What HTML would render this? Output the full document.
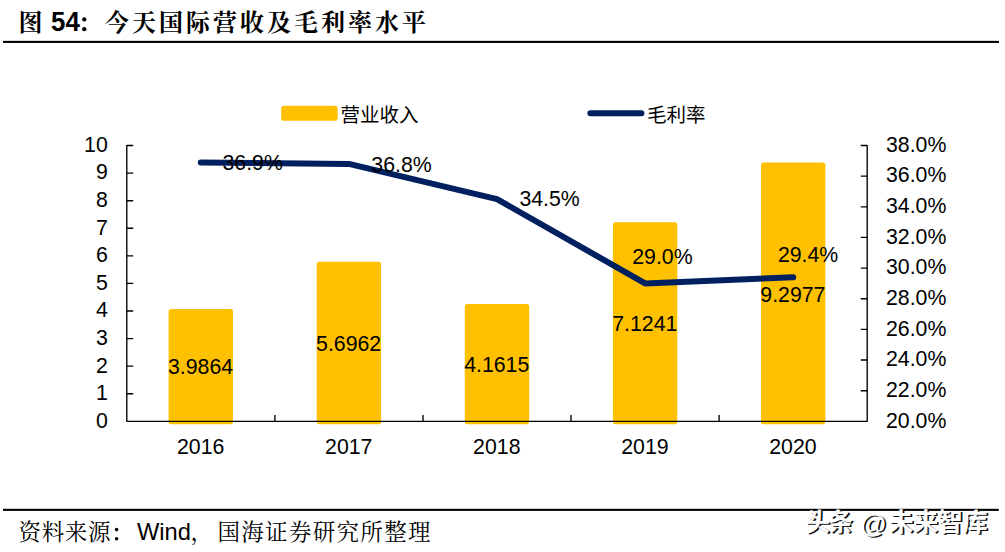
<!DOCTYPE html>
<html lang="zh"><head><meta charset="utf-8"><title>图 54</title>
<style>
html,body{margin:0;padding:0;background:#fff;}
svg{display:block;}
text{font-family:"Liberation Sans",sans-serif;fill:#000;}
text.cjk{font-family:"Liberation Sans","Noto Sans CJK SC",sans-serif;}
text.kai{font-family:"Liberation Serif","Noto Serif CJK SC",serif;}
</style></head><body>
<svg width="1005" height="552" viewBox="0 0 1005 552">
<rect width="1005" height="552" fill="#fff"/>
<text class="kai" x="18.5" y="30.5" font-size="24" font-weight="bold">图</text>
<text class="kai" x="105" y="30.5" font-size="24" font-weight="bold" textLength="321" lengthAdjust="spacing">今天国际营收及毛利率水平</text>
<text transform="translate(51.00,30.70) scale(1,1.088)" font-size="25.9" font-weight="bold">54</text>
<circle cx="84.3" cy="19.4" r="2.15"/><circle cx="84.3" cy="29.2" r="2.15"/>
<rect x="3" y="40.85" width="996" height="2.1" fill="#000"/>
<rect x="281.2" y="105.8" width="56.4" height="15" rx="2.6" fill="#FFC000"/>
<text class="cjk" x="340.5" y="121.5" font-size="19.5" textLength="78" lengthAdjust="spacing">营业收入</text>
<line x1="590.4" y1="113.3" x2="641.4" y2="113.3" stroke="#002060" stroke-width="6" stroke-linecap="round"/>
<text class="cjk" x="647" y="121.5" font-size="19.5" textLength="58.5" lengthAdjust="spacing">毛利率</text>
<rect x="171.1" y="311.4" width="59.4" height="110.4" fill="#FFC000" stroke="#FFC000" stroke-width="5" stroke-linejoin="round"/>
<rect x="319.2" y="264.2" width="59.4" height="157.6" fill="#FFC000" stroke="#FFC000" stroke-width="5" stroke-linejoin="round"/>
<rect x="467.3" y="306.5" width="59.4" height="115.3" fill="#FFC000" stroke="#FFC000" stroke-width="5" stroke-linejoin="round"/>
<rect x="615.4" y="224.8" width="59.4" height="197.0" fill="#FFC000" stroke="#FFC000" stroke-width="5" stroke-linejoin="round"/>
<rect x="763.5" y="164.9" width="59.4" height="256.9" fill="#FFC000" stroke="#FFC000" stroke-width="5" stroke-linejoin="round"/>
<path d="M126.8 145.0V421.8M126.8 421.3H867.2M867.2 145.0V421.8M126.8 421.3h6.4M126.8 393.7h6.4M126.8 366.1h6.4M126.8 338.6h6.4M126.8 311.0h6.4M126.8 283.4h6.4M126.8 255.8h6.4M126.8 228.2h6.4M126.8 200.7h6.4M126.8 173.1h6.4M126.8 145.5h6.4M867.2 421.3h-6.4M867.2 390.7h-6.4M867.2 360.0h-6.4M867.2 329.4h-6.4M867.2 298.7h-6.4M867.2 268.1h-6.4M867.2 237.4h-6.4M867.2 206.8h-6.4M867.2 176.1h-6.4M867.2 145.5h-6.4M274.9 421.3v-6.4M423.0 421.3v-6.4M571.0 421.3v-6.4M719.1 421.3v-6.4" stroke="#000" stroke-width="1.35" fill="none"/>
<text transform="translate(107.80,428.00) scale(1,1.040)" font-size="21.3" text-anchor="end">0</text>
<text transform="translate(107.80,400.37) scale(1,1.040)" font-size="21.3" text-anchor="end">1</text>
<text transform="translate(107.80,372.74) scale(1,1.040)" font-size="21.3" text-anchor="end">2</text>
<text transform="translate(107.80,345.11) scale(1,1.040)" font-size="21.3" text-anchor="end">3</text>
<text transform="translate(107.80,317.48) scale(1,1.040)" font-size="21.3" text-anchor="end">4</text>
<text transform="translate(107.80,289.85) scale(1,1.040)" font-size="21.3" text-anchor="end">5</text>
<text transform="translate(107.80,262.22) scale(1,1.040)" font-size="21.3" text-anchor="end">6</text>
<text transform="translate(107.80,234.59) scale(1,1.040)" font-size="21.3" text-anchor="end">7</text>
<text transform="translate(107.80,206.96) scale(1,1.040)" font-size="21.3" text-anchor="end">8</text>
<text transform="translate(107.80,179.33) scale(1,1.040)" font-size="21.3" text-anchor="end">9</text>
<text transform="translate(107.80,151.70) scale(1,1.040)" font-size="21.3" text-anchor="end">10</text>
<text transform="translate(886.00,427.75) scale(1,1.040)" font-size="21.3">20.0%</text>
<text transform="translate(886.00,397.06) scale(1,1.040)" font-size="21.3">22.0%</text>
<text transform="translate(886.00,366.36) scale(1,1.040)" font-size="21.3">24.0%</text>
<text transform="translate(886.00,335.67) scale(1,1.040)" font-size="21.3">26.0%</text>
<text transform="translate(886.00,304.97) scale(1,1.040)" font-size="21.3">28.0%</text>
<text transform="translate(886.00,274.28) scale(1,1.040)" font-size="21.3">30.0%</text>
<text transform="translate(886.00,243.58) scale(1,1.040)" font-size="21.3">32.0%</text>
<text transform="translate(886.00,212.89) scale(1,1.040)" font-size="21.3">34.0%</text>
<text transform="translate(886.00,182.19) scale(1,1.040)" font-size="21.3">36.0%</text>
<text transform="translate(886.00,151.50) scale(1,1.040)" font-size="21.3">38.0%</text>
<text transform="translate(200.64,453.70) scale(1,1.040)" font-size="21.3" text-anchor="middle">2016</text>
<text transform="translate(348.72,453.70) scale(1,1.040)" font-size="21.3" text-anchor="middle">2017</text>
<text transform="translate(496.80,453.70) scale(1,1.040)" font-size="21.3" text-anchor="middle">2018</text>
<text transform="translate(644.88,453.70) scale(1,1.040)" font-size="21.3" text-anchor="middle">2019</text>
<text transform="translate(792.96,453.70) scale(1,1.040)" font-size="21.3" text-anchor="middle">2020</text>
<polyline points="200.8,162.4 348.9,163.9 497.0,199.1 645.1,283.4 793.2,277.3" fill="none" stroke="#002060" stroke-width="6" stroke-linecap="round" stroke-linejoin="round"/>
<text transform="translate(200.54,374.00) scale(1,1.040)" font-size="21.3" text-anchor="middle">3.9864</text>
<text transform="translate(348.62,351.10) scale(1,1.040)" font-size="21.3" text-anchor="middle">5.6962</text>
<text transform="translate(496.70,372.40) scale(1,1.040)" font-size="21.3" text-anchor="middle">4.1615</text>
<text transform="translate(644.78,330.90) scale(1,1.040)" font-size="21.3" text-anchor="middle">7.1241</text>
<text transform="translate(792.86,301.80) scale(1,1.040)" font-size="21.3" text-anchor="middle">9.2977</text>
<text transform="translate(252.70,170.20) scale(1,1.040)" font-size="21.3" text-anchor="middle">36.9%</text>
<text transform="translate(401.50,172.00) scale(1,1.040)" font-size="21.3" text-anchor="middle">36.8%</text>
<text transform="translate(549.60,205.90) scale(1,1.040)" font-size="21.3" text-anchor="middle">34.5%</text>
<text transform="translate(662.40,264.10) scale(1,1.040)" font-size="21.3" text-anchor="middle">29.0%</text>
<text transform="translate(808.10,261.60) scale(1,1.040)" font-size="21.3" text-anchor="middle">29.4%</text>
<rect x="3" y="508.8" width="995.8" height="2.1" fill="#000"/>
<text class="kai" x="18.5" y="540" font-size="22.5" textLength="92" lengthAdjust="spacing">资料来源</text>
<text class="kai" x="217.5" y="540" font-size="22.5" textLength="213" lengthAdjust="spacing">国海证券研究所整理</text>
<circle cx="116.6" cy="529.6" r="1.8"/><circle cx="116.6" cy="538.8" r="1.8"/>
<text transform="translate(137.00,539.60) scale(1,1.000)" font-size="23.7">Wind</text>
<text class="kai" x="190.5" y="540" font-size="22.5">，</text>
<g>
<text class="cjk" x="806.7" y="532.2" font-size="25" font-weight="bold" textLength="48" lengthAdjust="spacing" style="fill:#111">头条</text>
<text class="cjk" x="890.2" y="532.2" font-size="25" font-weight="bold" textLength="99" lengthAdjust="spacing" style="fill:#111">未来智库</text>
<text transform="translate(861.80,534.30) scale(1,1.000)" font-size="26.3" style="fill:#111">@</text>
<text class="cjk" x="805" y="530.5" font-size="25" font-weight="bold" textLength="48" lengthAdjust="spacing" style="fill:#fff">头条</text>
<text class="cjk" x="888.5" y="530.5" font-size="25" font-weight="bold" textLength="99" lengthAdjust="spacing" style="fill:#fff">未来智库</text>
<text transform="translate(860.10,532.60) scale(1,1.000)" font-size="26.3" style="fill:#fff">@</text>
</g>
</svg>
</body></html>
